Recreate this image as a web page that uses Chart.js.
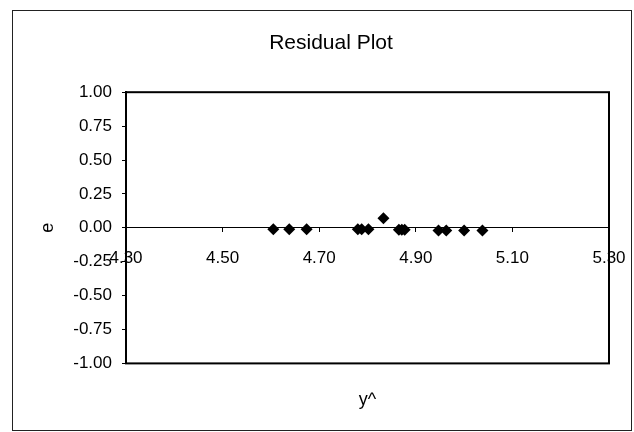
<!DOCTYPE html>
<html>
<head>
<meta charset="utf-8">
<script src="https://cdn.jsdelivr.net/npm/chart.js@4"></script>
<style>
  html, body { margin: 0; padding: 0; background: #fff; }
  #wrap { width: 634px; height: 432px; }
</style>
</head>
<body>
<div id="wrap"><canvas id="c" width="634" height="432"></canvas></div>
<script>
const chartTitle = "Residual Plot";
const xTitle = "y^";
const yTitle = "e";
const fittedValues = [4.605, 4.638, 4.674, 4.780, 4.788, 4.802, 4.833, 4.865, 4.871, 4.877, 4.947, 4.963, 5.000, 5.038];
const residuals    = [-0.01, -0.01, -0.01, -0.01, -0.01, -0.01, 0.07, -0.015, -0.015, -0.015, -0.02, -0.02, -0.02, -0.02];
const xTicks = [4.30, 4.50, 4.70, 4.90, 5.10, 5.30];
const yTicks = [-1.00, -0.75, -0.50, -0.25, 0.00, 0.25, 0.50, 0.75, 1.00];

const points = fittedValues.map((x, i) => ({ x: x, y: residuals[i] }));

const framePlugin = {
  id: 'frame',
  beforeDraw(chart) {
    const ctx = chart.ctx;
    ctx.save();
    ctx.fillStyle = '#fff';
    ctx.fillRect(0, 0, chart.width, chart.height);
    ctx.strokeStyle = '#222';
    ctx.lineWidth = 1;
    ctx.strokeRect(12.5, 10.5, 619, 420);
    ctx.restore();
  },
  afterDraw(chart) {
    const a = chart.chartArea;
    const ctx = chart.ctx;
    ctx.save();
    ctx.strokeStyle = '#000';
    ctx.lineWidth = 2;
    ctx.strokeRect(a.left, a.top, a.right - a.left, a.bottom - a.top);
    ctx.restore();
  }
};

const fam = 'Liberation Sans, Arial, sans-serif';
const font = { family: fam, size: 17 };

new Chart(document.getElementById('c'), {
  type: 'scatter',
  data: {
    datasets: [{
      data: points,
      xAxisID: 'x',
      yAxisID: 'y',
      pointStyle: 'rectRot',
      pointRadius: 6,
      pointHoverRadius: 6,
      backgroundColor: '#000',
      borderColor: '#000',
      borderWidth: 0
    }]
  },
  options: {
    responsive: false,
    animation: false,
    devicePixelRatio: 1,
    layout: { autoPadding: false, padding: { left: 53, right: 25, top: 10, bottom: 10 } },
    plugins: {
      legend: { display: false },
      tooltip: { enabled: false },
      title: {
        display: true,
        text: chartTitle,
        color: '#000',
        font: { family: fam, size: 21, weight: 'normal' },
        padding: { top: 21, bottom: 36 }
      }
    },
    scales: {
      x: {
        type: 'linear',
        position: { y: 0 },
        min: 4.3,
        max: 5.3,
        afterBuildTicks(scale) { scale.ticks = xTicks.map(v => ({ value: v })); },
        afterFit(scale) {
          scale.paddingLeft = 0; scale.paddingRight = 0;
          scale.paddingTop = 0; scale.paddingBottom = 0;
        },
        ticks: {
          color: '#000',
          font: font,
          autoSkip: false,
          maxRotation: 0,
          padding: 16,
          callback: v => Number(v).toFixed(2)
        },
        grid: { drawOnChartArea: false, drawTicks: true, tickLength: 4, color: '#000' },
        border: { display: true, color: '#000', width: 1 }
      },
      x2: {
        type: 'linear',
        position: 'bottom',
        min: 4.3,
        max: 5.3,
        ticks: { display: false },
        grid: { display: false, drawTicks: false },
        border: { display: false },
        title: {
          display: true,
          text: xTitle,
          color: '#000',
          font: { family: fam, size: 18, weight: 'normal' },
          padding: { top: 26, bottom: 11 }
        }
      },
      y: {
        type: 'linear',
        min: -1,
        max: 1,
        afterBuildTicks(scale) { scale.ticks = yTicks.map(v => ({ value: v })); },
        afterFit(scale) { scale.width = 73; },
        title: {
          display: true,
          text: yTitle,
          color: '#000',
          font: { family: fam, size: 18, weight: 'normal' },
          padding: { top: -16, bottom: 0 }
        },
        ticks: {
          color: '#000',
          font: font,
          padding: 10,
          callback: v => Number(v).toFixed(2)
        },
        grid: { drawOnChartArea: false, drawTicks: true, tickLength: 4, color: '#000' },
        border: { display: true, color: '#000', width: 2 }
      }
    }
  },
  plugins: [framePlugin]
});
</script>
</body>
</html>
